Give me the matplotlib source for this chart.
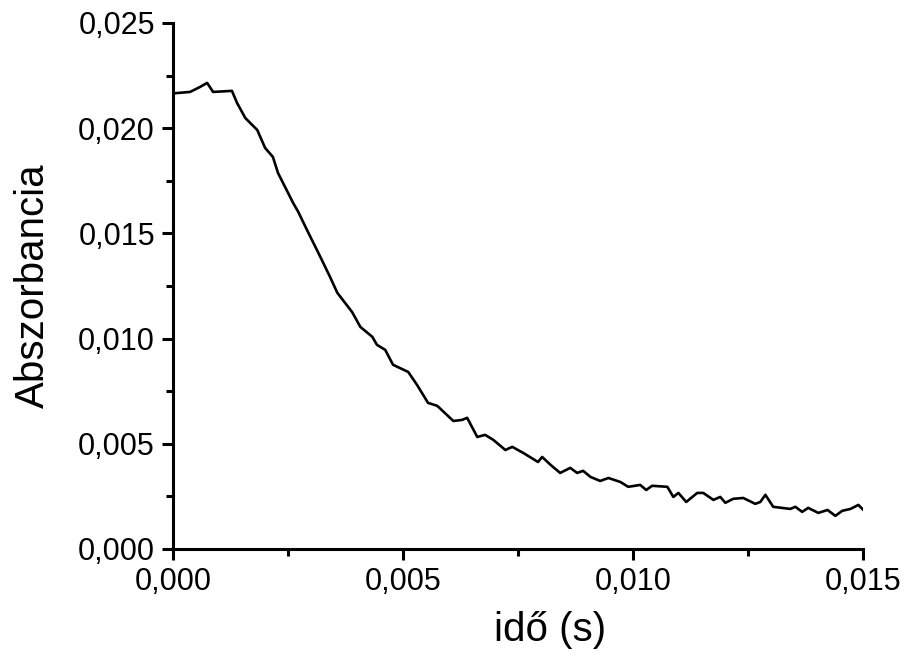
import matplotlib
matplotlib.use("Agg")
import matplotlib.pyplot as plt
from matplotlib.ticker import MultipleLocator, FuncFormatter

plt.rcParams["font.family"] = ["Liberation Sans", "DejaVu Sans"]

# time (s) and absorbance
ido = [0.0000, 0.0001, 0.00037, 0.00059, 0.00074, 0.00087, 0.00128, 0.00139,
       0.00157, 0.00183, 0.00200, 0.00217, 0.00228, 0.00261, 0.00272, 0.00291,
       0.00320, 0.00341, 0.00357, 0.00389, 0.00407, 0.00433, 0.00443, 0.00461,
       0.00478, 0.00511, 0.00530, 0.00554, 0.00574, 0.00609, 0.00628, 0.00639,
       0.00661, 0.00678, 0.00696, 0.00722, 0.00737, 0.00761, 0.00793, 0.00802,
       0.00820, 0.00841, 0.00863, 0.00878, 0.00891, 0.00907, 0.00928, 0.00946,
       0.00972, 0.00989, 0.01015, 0.01028, 0.01041, 0.01074, 0.01087, 0.01098,
       0.01115, 0.01139, 0.01152, 0.01174, 0.01189, 0.01200, 0.01217, 0.01239,
       0.01265, 0.01276, 0.01287, 0.01304, 0.01341, 0.01352, 0.01367, 0.01380,
       0.01402, 0.01422, 0.01439, 0.01454, 0.01472, 0.01489, 0.01500]
absz = [0.02165, 0.02167, 0.02172, 0.02196, 0.02215, 0.02172, 0.02177, 0.02120,
        0.02048, 0.01991, 0.01906, 0.01863, 0.01787, 0.01644, 0.01602, 0.01516,
        0.01388, 0.01293, 0.01217, 0.01126, 0.01055, 0.01008, 0.00970, 0.00946,
        0.00875, 0.00841, 0.00780, 0.00694, 0.00680, 0.00608, 0.00613, 0.00623,
        0.00532, 0.00542, 0.00518, 0.00470, 0.00485, 0.00456, 0.00413, 0.00437,
        0.00400, 0.00361, 0.00385, 0.00361, 0.00371, 0.00342, 0.00323, 0.00337,
        0.00318, 0.00295, 0.00304, 0.00280, 0.00300, 0.00295, 0.00247, 0.00266,
        0.00223, 0.00266, 0.00266, 0.00233, 0.00247, 0.00219, 0.00238, 0.00242,
        0.00214, 0.00223, 0.00257, 0.00200, 0.00190, 0.00200, 0.00176, 0.00195,
        0.00171, 0.00185, 0.00157, 0.00181, 0.00190, 0.00209, 0.00185]


def comma(v, pos):
    return f"{v:.3f}".replace(".", ",")


fig = plt.figure(figsize=(9.06, 6.55), dpi=100)
ax = fig.add_axes([0.191, 0.162, 0.762, 0.803])
ax.plot(ido, absz, color="black", lw=1.9)

ax.set_xlim(0, 0.015)
ax.set_ylim(0, 0.025)
ax.xaxis.set_major_locator(MultipleLocator(0.005))
ax.xaxis.set_minor_locator(MultipleLocator(0.0025))
ax.yaxis.set_major_locator(MultipleLocator(0.005))
ax.yaxis.set_minor_locator(MultipleLocator(0.0025))
ax.xaxis.set_major_formatter(FuncFormatter(comma))
ax.yaxis.set_major_formatter(FuncFormatter(comma))

for s in ("top", "right"):
    ax.spines[s].set_visible(False)
for s in ("left", "bottom"):
    ax.spines[s].set_linewidth(2.2)

ax.tick_params(which="major", direction="out", length=8, width=2.2,
               labelsize=22, pad=5)
ax.tick_params(which="minor", direction="out", length=5, width=2.2)

ax.set_xlabel("idő (s)", fontsize=29, labelpad=10, x=0.546)
ax.set_ylabel("Abszorbancia", fontsize=29, labelpad=19)

fig.savefig("out.png", dpi=100)
